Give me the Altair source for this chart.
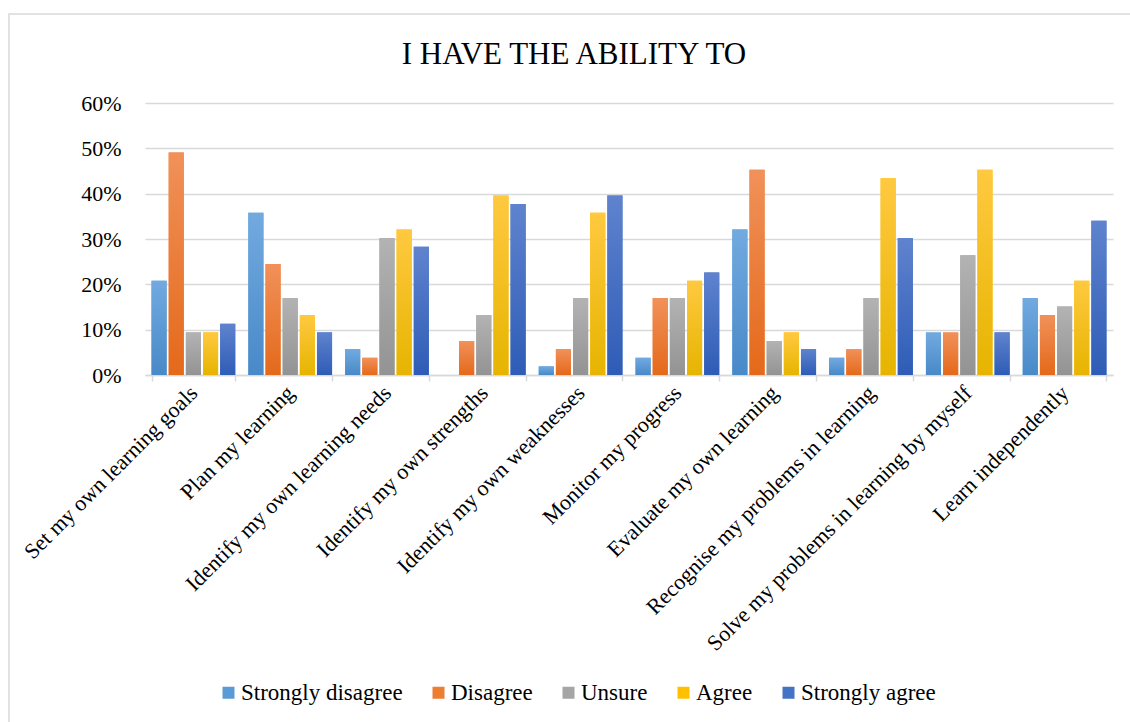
import altair as alt
import pandas as pd

# Survey responses (% of respondents) for each self-directed learning ability
categories = [
    "Set my own learning goals",
    "Plan my learning",
    "Identify my own learning needs",
    "Identify my own strengths",
    "Identify my own weaknesses",
    "Monitor my progress",
    "Evaluate my own learning",
    "Recognise my problems in learning",
    "Solve my problems in learning by myself",
    "Learn independently",
]
series_names = ["Strongly disagree", "Disagree", "Unsure", "Agree", "Strongly agree"]

strongly_disagree = [20.8, 35.8, 5.7, 0.0, 1.9, 3.8, 32.1, 3.8, 9.4, 17.0]
disagree = [49.1, 24.5, 3.8, 7.5, 5.7, 17.0, 45.3, 5.7, 9.4, 13.2]
unsure = [9.4, 17.0, 30.2, 13.2, 17.0, 17.0, 7.5, 17.0, 26.4, 15.1]
agree = [9.4, 13.2, 32.1, 39.6, 35.8, 20.8, 9.4, 43.4, 45.3, 20.8]
strongly_agree = [11.3, 9.4, 28.3, 37.7, 39.6, 22.6, 5.7, 30.2, 9.4, 34.0]

y_ticks = [0, 10, 20, 30, 40, 50, 60]

# Office-style palette: flat colour for the legend, light->dark gradient for bars
base_colors = ["#5B9BD5", "#ED7D31", "#A5A5A5", "#FFC000", "#4472C4"]
top_colors = ["#72AAE0", "#F1915A", "#B3B3B3", "#FFC940", "#5F83CE"]
bottom_colors = ["#4889C8", "#E4691A", "#939393", "#E6B400", "#2E5CB6"]

series_values = [strongly_disagree, disagree, unsure, agree, strongly_agree]
rows = []
for name, vals in zip(series_names, series_values):
    for cat, v in zip(categories, vals):
        rows.append({"ability": cat, "response": name, "pct": v})
df = pd.DataFrame(rows)

FONT = "Liberation Serif"
GRID = "#D9D9D9"

x_enc = alt.X(
    "ability:N",
    sort=categories,
    title=None,
    scale=alt.Scale(paddingInner=0.135, paddingOuter=0.0675),
    axis=alt.Axis(
        labelAngle=-45,
        labelAlign="right",
        labelBaseline="middle",
        labelPadding=8,
        labelFontSize=22,
        labelFont=FONT,
        labelColor="#000000",
        labelLimit=500,
        domainColor=GRID,
        domainWidth=1.5,
        tickColor=GRID,
        tickWidth=1.5,
        tickSize=6,
        tickBand="extent",
        grid=False,
    ),
)
y_enc = alt.Y(
    "pct:Q",
    title=None,
    scale=alt.Scale(domain=[0, 60], nice=False),
    axis=alt.Axis(
        values=y_ticks,
        labelExpr="datum.value + '%'",
        labelFontSize=22,
        labelFont=FONT,
        labelColor="#000000",
        labelPadding=24,
        domain=False,
        ticks=False,
        gridColor=GRID,
        gridWidth=1.5,
    ),
)
xoff_enc = alt.XOffset(
    "response:N",
    sort=series_names,
    scale=alt.Scale(domain=series_names, paddingInner=0.12),
)

base = alt.Chart(df)

# Flat bars carrying the legend
legend_bars = base.mark_bar().encode(
    x=x_enc,
    y=y_enc,
    xOffset=xoff_enc,
    color=alt.Color(
        "response:N",
        sort=series_names,
        scale=alt.Scale(domain=series_names, range=base_colors),
        legend=alt.Legend(
            title=None,
            orient="none",
            direction="horizontal",
            legendX=72,
            legendY=578,
            symbolType="square",
            symbolSize=144,
            symbolStrokeWidth=0,
            labelFont=FONT,
            labelFontSize=23,
            labelColor="#000000",
            labelOffset=1,
            columnPadding=24,
            labelLimit=400,
        ),
    ),
)

# Gradient-filled bars drawn over the flat ones, one layer per response
gradient_layers = []
for name, top, bottom in zip(series_names, top_colors, bottom_colors):
    grad = alt.LinearGradient(
        gradient="linear",
        stops=[
            alt.GradientStop(color=top, offset=0),
            alt.GradientStop(color=bottom, offset=1),
        ],
        x1=0, x2=0, y1=0, y2=1,
    )
    gradient_layers.append(
        base.transform_filter(alt.datum.response == name)
        .mark_bar(color=grad)
        .encode(x=x_enc, y=y_enc, xOffset=xoff_enc)
    )

# Light frame around the chart area
frame = alt.Chart(alt.Data(values=[{}])).mark_rect(
    fill=None, stroke=GRID, strokeWidth=1.5
).encode(
    x=alt.value(-136), x2=alt.value(1000),
    y=alt.value(-89), y2=alt.value(640),
)

chart = (
    alt.layer(frame, legend_bars, *gradient_layers)
    .properties(
        width=968,
        height=272,
        autosize=alt.AutoSizeParams(type="none"),
        padding={"left": 145, "top": 103, "right": 17, "bottom": 347},
        title=alt.TitleParams(
            "I HAVE THE ABILITY TO",
            font=FONT,
            fontSize=31,
            fontWeight="normal",
            color="#000000",
            anchor="middle",
            frame="group",
            baseline="alphabetic",
            offset=0,
            dx=-55,
            dy=82,
        ),
        background="white",
    )
    .configure_view(stroke=None)
)

chart.save("out.html", embed_options={"renderer": "svg", "actions": False})
